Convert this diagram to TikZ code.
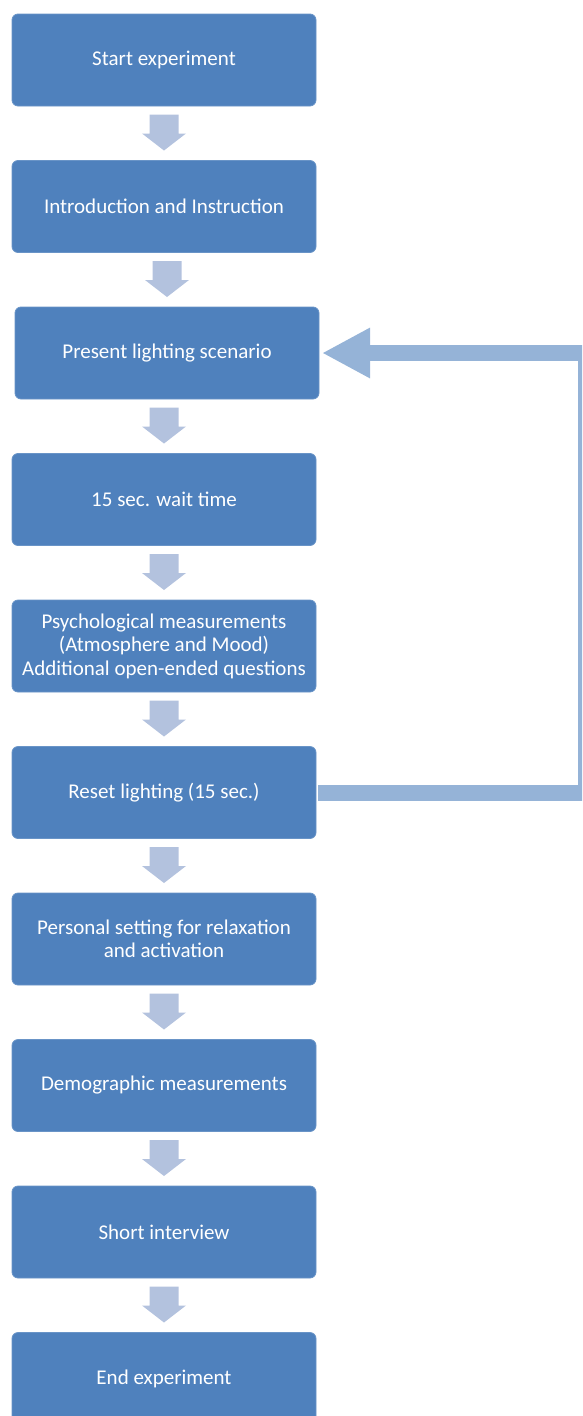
\documentclass[tikz,border=0pt]{standalone}
\usepackage{fontspec}
\setmainfont{Carlito}
\usetikzlibrary{positioning}
\usetikzlibrary{arrows.meta}
\definecolor{boxblue}{HTML}{4F81BD}
\definecolor{flowarrow}{HTML}{B3C2DE}
\definecolor{loopblue}{HTML}{95B3D7}

\begin{document}
\begin{tikzpicture}[x=1pt,y=1pt,
    stage/.style={rectangle,rounded corners=6pt,fill=boxblue,draw=boxblue!85!white,line width=0.8pt,
      minimum width=304pt,minimum height=92pt,inner sep=0pt,outer sep=0pt,text=white,align=center,
      font=\fontsize{21}{23.5}\selectfont},
    node distance=54.5pt]
      \clip (0,0) rectangle (582,-1416);
      \node[stage] (start) at (164,-60) {Start experiment};
      \node[stage,below=of start] (intro) {Introduction and Instruction};
      \node[stage,below=of intro,xshift=3pt] (present) {Present lighting scenario};
      \node[stage,below=of present,xshift=-3pt] (wait) {15 sec. wait time};
      \node[stage,below=of wait] (psych) {Psychological measurements\\(Atmosphere and Mood)\\Additional open-ended questions};
      \node[stage,below=of psych] (reset) {Reset lighting (15 sec.)};
      \node[stage,below=of reset] (personal) {Personal setting for relaxation\\and activation};
      \node[stage,below=of personal] (demo) {Demographic measurements};
      \node[stage,below=of demo] (interview) {Short interview};
      \node[stage,below=of interview] (finish) {End experiment};
      % block arrows between the stages
      \foreach \b in {intro,present,wait,psych,reset,personal,demo,interview,finish}
        \fill[flowarrow] (\b.north) ++(0,10) -- ++(22,17) -- ++(-7.5,0) -- ++(0,19)
          -- ++(-29,0) -- ++(0,-19) -- ++(-7.5,0) -- cycle;
      % loop back to the next scenario
      \draw[loopblue,line width=16pt,line join=miter,-{Triangle[length=48pt,width=47pt]}]
        ([xshift=2pt]reset.east) -- ++(268,0) |- ([xshift=3pt]present.east);
\end{tikzpicture}
\end{document}
